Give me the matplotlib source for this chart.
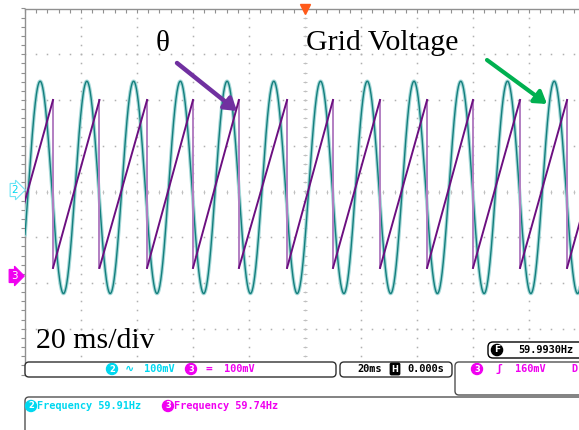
import numpy as np
import matplotlib
matplotlib.use('Agg')
import matplotlib.pyplot as plt
from matplotlib.patches import FancyBboxPatch
from matplotlib.transforms import IdentityTransform

'''
Scope capture: grid voltage (ch2) and PLL angle theta (ch3), 20 ms/div
'''
W, H = 579, 430

# screen: 10 x 8 divisions, 20 ms/div, centre at t = 0
ms_per_div = 20
t_range = (-100, 100)
v_range = (-4, 4)

# ch2 grid voltage (divisions)
grid_freq_hz = 59.91
grid_amp_div = 2.32
grid_offset_div = 0.09
grid_peak_ms = -94.6

# ch3 theta sawtooth (divisions), wrap instants
theta_low_div = -1.67
theta_high_div = 2.0
theta_drops_ms = [-90.0, -73.4, -56.4, -40.0, -23.6, -6.4, 10.0, 26.8,
                  43.6, 60.0, 76.8, 93.6]

ch2_label = 'Frequency 59.91Hz'
ch3_label = 'Frequency 59.74Hz'

CYAN = '#00d8f0'
MAG = '#f000f0'
GRAY = '#b0b0b0'

#-----------------------------------------------------------------------
def px(x, y):
    """pixel (from top-left) -> figure fraction"""
    return x / W, 1 - y / H

def box(fig, x0, y0, x1, y1, ec='#505050', r=4, lw=1.0):
    p = FancyBboxPatch((x0, H - y1), x1 - x0, y1 - y0,
                       boxstyle='round,pad=0,rounding_size=%g' % r,
                       transform=IdentityTransform(), fc='white', ec=ec,
                       lw=lw, zorder=5)
    fig.add_artist(p)

def label(fig, x, y, s, color, size=7.4, **kw):
    fig.text(*px(x, y), s, color=color, fontsize=size, va='center',
             family=['DejaVu Sans Mono', 'DejaVu Sans'], weight='bold',
             zorder=6, **kw)

def circled(fig, x, y, s, fc, size=6):
    fig.text(*px(x, y), s, color='white', fontsize=size, ha='center',
             va='center', weight='bold', zorder=7,
             bbox=dict(boxstyle='circle,pad=0.12', fc=fc, ec=fc))

fig = plt.figure(figsize=(W / 100, H / 100), dpi=100)
fig.patch.set_facecolor('white')
ax = fig.add_axes([25 / W, 1 - 374.5 / H, 560 / W, 366 / H])
ax.set_xlim(*t_range)
ax.set_ylim(*v_range)
ax.axis('off')

# graticule
dx = ms_per_div / 5.0
for k in range(1, 10):
    t = t_range[0] + k * ms_per_div
    yy = np.arange(v_range[0], v_range[1] + 0.01, 0.2)
    ax.plot(np.full_like(yy, t), yy, ls='none', marker='s', ms=1.1,
            mfc=GRAY, mec='none', zorder=1)
for k in range(1, 8):
    v = v_range[0] + k
    tt = np.arange(t_range[0], t_range[1] + 0.01, dx)
    ax.plot(tt, np.full_like(tt, v), ls='none', marker='s', ms=1.1,
            mfc=GRAY, mec='none', zorder=1)
# ticks on centre lines and borders
tt = np.arange(t_range[0], t_range[1] + 0.01, dx)
yy = np.arange(v_range[0], v_range[1] + 0.01, 0.2)
ax.plot(tt, np.zeros_like(tt), ls='none', marker='|', ms=3, mew=0.7,
        color='#c0c0c0', zorder=1)
ax.plot(np.zeros_like(yy), yy, ls='none', marker='_', ms=3, mew=0.7,
        color='#c0c0c0', zorder=1)
ax.plot(tt, np.full_like(tt, v_range[1]), ls='none', marker=3, ms=3,
        mew=0.8, color='#909090', zorder=1, clip_on=False)
ax.plot(np.full_like(yy, t_range[0]), yy, ls='none', marker=0, ms=3,
        mew=0.8, color='#909090', zorder=1, clip_on=False)
ax.plot([t_range[0], t_range[1]], [v_range[1]] * 2, color='#909090',
        lw=1, clip_on=False)
ax.plot([t_range[0], t_range[0]], v_range, color='#909090', lw=1,
        clip_on=False)

# ch2 grid voltage
t = np.linspace(t_range[0], t_range[1], 3000)
vg = grid_offset_div + grid_amp_div * np.cos(
    2 * np.pi * grid_freq_hz * (t - grid_peak_ms) / 1000.0)
ax.plot(t, vg, color='#a6d8d8', lw=2.6, zorder=2)
ax.plot(t, vg, color='#137f7d', lw=1.0, zorder=3)

# ch3 theta sawtooth
period = np.mean(np.diff(theta_drops_ms))
starts = [theta_drops_ms[0] - period] + theta_drops_ms
ends = theta_drops_ms + [theta_drops_ms[-1] + period]
for a, b in zip(starts, ends):
    ax.plot([a, b], [theta_low_div, theta_high_div], color='#6c0f80',
            lw=1.4, zorder=4)
for d in theta_drops_ms:
    ax.plot([d, d], [theta_high_div, theta_low_div], color='#b27ec2',
            lw=1.4, zorder=3)

# trigger position marker
ax.plot([0], [v_range[1]], marker='v', ms=7, color='#ff5a1a',
        mec='#ff5a1a', clip_on=False, zorder=6)

# channel ground markers
fig.text(*px(15, 190), '2', color=CYAN, fontsize=7.5, ha='center',
         va='center', bbox=dict(boxstyle='rarrow,pad=0.15', fc='white',
                                ec='#70e4f4', lw=0.8))
fig.text(*px(14, 276), '3', color='white', fontsize=7.5, ha='center',
         va='center', bbox=dict(boxstyle='rarrow,pad=0.15', fc=MAG,
                                ec=MAG, lw=0.8))

# annotations
serif = 'Liberation Serif'
fig.text(*px(163, 44), '\u03b8', family=serif, fontsize=21, ha='center',
         va='center')
fig.text(*px(306, 50), 'Grid Voltage', family=serif, fontsize=21.5,
         ha='left', va='baseline')
fig.text(*px(36, 348), '20 ms/div', family=serif, fontsize=21.5,
         ha='left', va='baseline', zorder=6)
ax.annotate('', xy=px(237, 111), xycoords='figure fraction',
            xytext=px(177, 63), textcoords='figure fraction',
            arrowprops=dict(arrowstyle='-|>,head_length=0.7,head_width=0.45',
                            color='#7030a0', lw=3.2, shrinkA=0, shrinkB=0),
            zorder=8)
ax.annotate('', xy=px(547, 104), xycoords='figure fraction',
            xytext=px(487, 60), textcoords='figure fraction',
            arrowprops=dict(arrowstyle='-|>,head_length=0.7,head_width=0.45',
                            color='#00b050', lw=3.0, shrinkA=0, shrinkB=0),
            zorder=8)

# status bar
box(fig, 25, 362, 336, 377, ec='#303030')
circled(fig, 112, 369, '2', CYAN)
label(fig, 125, 369, '\u223f', CYAN, size=8)
label(fig, 144, 369, '100mV', CYAN)
circled(fig, 191, 369, '3', MAG)
label(fig, 206, 369, '=', MAG, size=8)
label(fig, 224, 369, '100mV', MAG)

box(fig, 340, 362, 452, 377, ec='#303030')
label(fig, 357, 369, '20ms', 'black')
fig.text(*px(395, 369), 'H', color='white', fontsize=6, ha='center',
         va='center', weight='bold', zorder=7,
         bbox=dict(boxstyle='round,pad=0.15', fc='black', ec='black'))
label(fig, 407, 369, '0.000s', 'black')

box(fig, 25, 397, 700, 470, ec='#505050')
box(fig, 455, 362, 700, 395, ec='#505050')
circled(fig, 477, 369, '3', MAG)
label(fig, 495, 369, '\u0283', MAG, size=8)
label(fig, 515, 369, '160mV', MAG)
label(fig, 571, 369, 'D', MAG)

box(fig, 488, 342, 700, 358, ec='black', r=5)
circled(fig, 497, 350, 'F', 'black', size=6.5)
label(fig, 518, 350, '59.9930Hz', 'black')

circled(fig, 31, 406, '2', CYAN)
label(fig, 37, 406, ch2_label, CYAN)
circled(fig, 168, 406, '3', MAG)
label(fig, 174, 406, ch3_label, MAG)

plt.savefig('out.png', dpi=100)
plt.close()
